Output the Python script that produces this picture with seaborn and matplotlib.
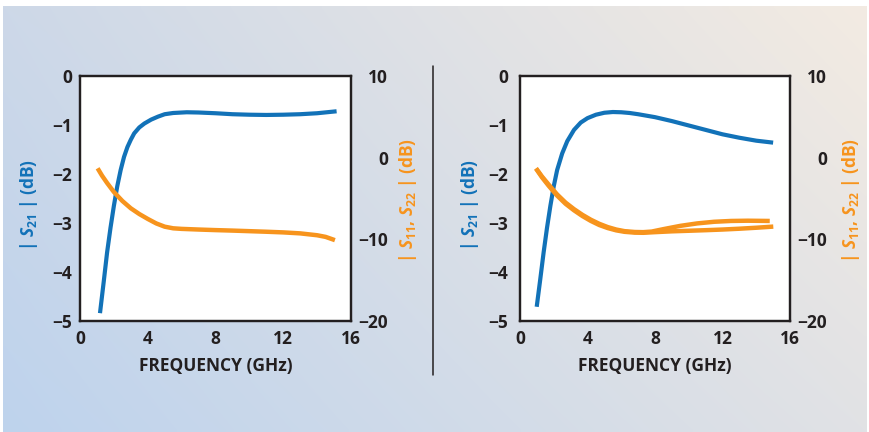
import numpy as np
import pandas as pd
import matplotlib
matplotlib.use("Agg")
import matplotlib.pyplot as plt
import seaborn as sns

# ---- data: left panel ----
f_s21_a = [1.18, 1.4, 1.6, 1.8, 2.0, 2.2, 2.4, 2.6, 2.8, 3.0, 3.2, 3.5, 3.8, 4.2, 4.6, 5.0,
           5.5, 6.3, 7.0, 8.0, 9.0, 10.0, 11.0, 12.0, 13.0, 14.0, 15.15]
s21_a = [-4.84, -4.2, -3.6, -3.1, -2.65, -2.25, -1.92, -1.65, -1.45, -1.3, -1.17, -1.05, -0.97,
         -0.89, -0.83, -0.78, -0.755, -0.74, -0.745, -0.76, -0.78, -0.79, -0.795, -0.79, -0.78,
         -0.76, -0.72]
f_ref_a = [1.04, 1.3, 1.6, 2.0, 2.5, 3.0, 3.5, 4.0, 4.5, 5.0, 5.5, 6.0, 7.0, 8.0, 9.0, 10.0,
           11.0, 12.0, 13.0, 14.0, 14.5, 15.05]
ref_a = [-1.3, -2.2, -3.1, -4.2, -5.3, -6.2, -6.9, -7.5, -8.05, -8.45, -8.65, -8.72, -8.8,
         -8.87, -8.93, -9.0, -9.07, -9.15, -9.27, -9.5, -9.7, -10.1]

# ---- data: right panel ----
f_s21_b = [0.99, 1.2, 1.4, 1.6, 1.8, 2.0, 2.2, 2.5, 2.8, 3.2, 3.6, 4.0, 4.5, 5.0, 5.5, 6.0,
           6.5, 7.0, 8.0, 9.0, 10.0, 11.0, 12.0, 13.0, 14.0, 15.0]
s21_b = [-4.71, -4.15, -3.6, -3.1, -2.65, -2.25, -1.92, -1.58, -1.33, -1.1, -0.95, -0.86, -0.79,
         -0.75, -0.735, -0.74, -0.755, -0.78, -0.84, -0.92, -1.01, -1.1, -1.19, -1.26, -1.32,
         -1.36]
f_s11_b = [0.95, 1.3, 1.7, 2.2, 2.7, 3.2, 3.7, 4.2, 4.7, 5.2, 5.7, 6.2, 6.8, 7.3, 7.8, 8.5,
           9.5, 10.5, 11.5, 12.5, 13.5, 14.8]
s11_b = [-1.3, -2.3, -3.3, -4.5, -5.5, -6.3, -7.0, -7.6, -8.1, -8.5, -8.8, -9.0, -9.1, -9.12,
         -9.05, -8.75, -8.35, -8.05, -7.85, -7.75, -7.72, -7.75]
f_s22_b = [0.95, 1.3, 1.7, 2.2, 2.7, 3.2, 3.7, 4.2, 4.7, 5.2, 5.7, 6.2, 6.8, 7.3, 8.0, 9.0,
           10.0, 11.0, 12.0, 13.0, 14.0, 15.01]
s22_b = [-1.35, -2.4, -3.45, -4.65, -5.65, -6.45, -7.15, -7.75, -8.25, -8.62, -8.9, -9.08,
         -9.18, -9.2, -9.12, -9.02, -8.95, -8.88, -8.8, -8.7, -8.58, -8.44]

x_ticks = [0, 4, 8, 12, 16]
y_left_ticks = [0, -1, -2, -3, -4, -5]
y_right_ticks = [10, 0, -10, -20]

BLUE = "#1272b8"
ORANGE = "#f7941d"
INK = "#231f20"
FS = 12.5

sns.set_style("white")
plt.rcParams["font.family"] = ["Open Sans", "DejaVu Sans"]
plt.rcParams["font.weight"] = "bold"
plt.rcParams["mathtext.fontset"] = "custom"
plt.rcParams["mathtext.it"] = "Open Sans:italic:bold"
plt.rcParams["mathtext.rm"] = "Open Sans:bold"
plt.rcParams["mathtext.bf"] = "Open Sans:bold"

fig = plt.figure(figsize=(8.7, 4.32), dpi=100)
fig.patch.set_facecolor("white")

# soft diagonal backdrop
bg = fig.add_axes([3 / 870, 0, 864 / 870, 426 / 432], zorder=-10)
tl = np.array([205, 216, 232]) / 255
tr = np.array([243, 235, 226]) / 255
bl = np.array([190, 211, 237]) / 255
br = np.array([225, 226, 229]) / 255
u = np.linspace(0, 1, 200)[None, :, None]
v = np.linspace(0, 1, 100)[:, None, None]
grad = (1 - v) * ((1 - u) * tl + u * tr) + v * ((1 - u) * bl + u * br)
bg.imshow(grad, aspect="auto", extent=[0, 1, 0, 1], interpolation="bilinear")
bg.set_axis_off()

# separator between panels
fig.add_artist(plt.Line2D([433 / 870, 433 / 870], [1 - 66 / 432, 1 - 375 / 432],
                          color=INK, lw=1.1))

fmt = lambda v: str(v).replace("-", "\u2212")

panels = [
    dict(left=80, width=271, s21=(f_s21_a, s21_a),
         refl=[(f_ref_a, ref_a)], lpad=5.5, ylab_l=-0.188, ylab_r=1.21),
    dict(left=520, width=270, s21=(f_s21_b, s21_b),
         refl=[(f_s11_b, s11_b), (f_s22_b, s22_b)], lpad=8.5, ylab_l=-0.185, ylab_r=1.226),
]

for p in panels:
    ax = fig.add_axes([p["left"] / 870, 1 - 321 / 432, p["width"] / 870, 245 / 432])
    ax.set_facecolor("white")
    df = pd.DataFrame({"f": p["s21"][0], "s": p["s21"][1]})
    sns.lineplot(data=df, x="f", y="s", ax=ax, color=BLUE, lw=3.0, sort=False,
                 solid_joinstyle="round", solid_capstyle="butt")
    ax.set_xlim(0, 16)
    ax.set_ylim(-5, 0)

    ax2 = ax.twinx()
    for fx, sx in p["refl"]:
        d2 = pd.DataFrame({"f": fx, "s": sx})
        sns.lineplot(data=d2, x="f", y="s", ax=ax2, color=ORANGE, lw=3.2, sort=False,
                     solid_joinstyle="round", solid_capstyle="butt")
    ax2.set_ylim(-20, 10)
    ax2.set_xlim(0, 16)

    for a in (ax, ax2):
        for sp in a.spines.values():
            sp.set_visible(True)
            sp.set_color(INK)
            sp.set_linewidth(1.6)

    # labels on major ticks, marks on minor ticks
    ax.set_xticks(x_ticks)
    ax.set_xticklabels([fmt(t) for t in x_ticks])
    ax.set_xticks(x_ticks[1:-1], minor=True)
    ax.set_yticks(y_left_ticks)
    ax.set_yticklabels([fmt(t) for t in y_left_ticks])
    ax.set_yticks(y_left_ticks[1:-1], minor=True)
    ax.tick_params(axis="both", which="major", length=0, labelsize=FS, labelcolor=INK)
    ax.tick_params(axis="x", which="major", pad=6.5)
    ax.tick_params(axis="y", which="major", pad=p["lpad"])
    ax.tick_params(axis="x", which="minor", direction="in", length=4.5, width=1.6, color=INK)
    ax.tick_params(axis="y", which="minor", direction="out", length=5.8, width=1.6, color=INK)

    ax2.set_yticks(y_right_ticks)
    ax2.set_yticklabels([fmt(t) for t in y_right_ticks])
    ax2.set_yticks(y_right_ticks[1:-1], minor=True)
    ax2.tick_params(axis="y", which="major", length=0, labelsize=FS, labelcolor=INK, pad=26.6)
    ax2.tick_params(axis="y", which="minor", direction="in", length=5.2, width=1.6, color=INK)
    for lab in ax2.get_yticklabels():
        lab.set_horizontalalignment("right")

    ax.set_xlabel("FREQUENCY (GHz)", fontsize=FS, color=INK, fontweight="bold")
    ax.xaxis.label.set_va("center")
    ax.xaxis.set_label_coords(0.5, -0.185)

    ax.set_ylabel(r"| $S_{21}$ | (dB)", fontsize=FS, color=BLUE, fontweight="bold")
    ax.yaxis.label.set_va("center")
    ax.yaxis.set_label_coords(p["ylab_l"], 0.475)

    ax2.set_ylabel(r"| $S_{11}$, $S_{22}$ | (dB)", fontsize=FS, color=ORANGE,
                   fontweight="bold", rotation=90)
    ax2.yaxis.label.set_va("center")
    ax2.yaxis.set_label_coords(p["ylab_r"], 0.49)

fig.savefig("out.png", dpi=100)
